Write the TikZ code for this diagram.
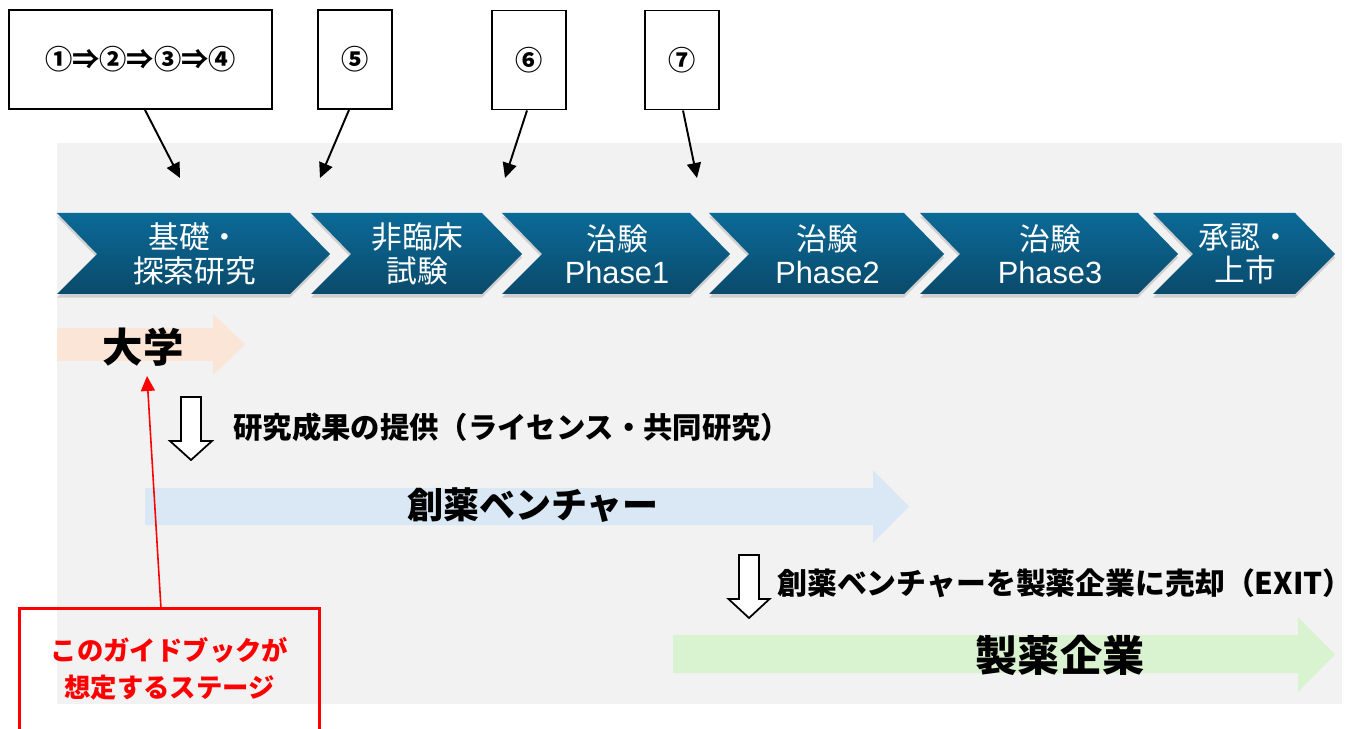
\documentclass[tikz,border=0pt]{standalone}
\usepackage{fontspec}
\setmainfont{Noto Sans CJK JP}
\newfontfamily\latinfont{Liberation Sans}
\usepackage{tikz}
\usetikzlibrary{arrows.meta}
\usetikzlibrary{shadows}
\definecolor{color_stage_top}{HTML}{0B6A97}
\definecolor{color_stage_bottom}{HTML}{0A4A6B}
\definecolor{color_back}{HTML}{F2F2F2}
\definecolor{color_univ}{HTML}{FBE5D6}
\definecolor{color_venture}{HTML}{DAE8F5}
\definecolor{color_pharma}{HTML}{D9F2D0}
\definecolor{color_guide}{HTML}{FF0000}

\begin{document}
\begin{tikzpicture}[x=0.02cm, y=-0.02cm]
  \tikzset{ % Specifications for style of nodes:
      stage/.style = {top color=color_stage_top, bottom color=color_stage_bottom, draw=none,
                      drop shadow={shadow xshift=0pt, shadow yshift=-2pt, opacity=0.3}},
      stagetext/.style = {text=white, align=center, font=\fontsize{17.5}{19}\selectfont},
      stepbox/.style = {draw=black, line width=1.1pt, fill=white, minimum height=1.98cm, font=\bfseries\fontsize{15.5}{18}\selectfont},
      pin/.style = {-{Triangle[length=0.3cm, width=0.28cm]}, line width=1.1pt},
      hollow/.style = {draw=black, fill=white, line width=1pt},
      note/.style = {anchor=west, inner sep=0pt, font=\bfseries\fontsize{16.7}{19}\selectfont},
      guide/.style = {text=color_guide, align=center, minimum width=5.98cm, minimum height=2.4cm, font=\bfseries\fontsize{15}{21}\selectfont},
      guideline/.style = {draw=color_guide, line width=1.5pt},
      guidepin/.style = {color_guide, line width=0.9pt, -{Triangle[length=0.3cm, width=0.28cm]}},
  }
  \useasboundingbox (0,0) rectangle (1351,729);
  \fill[color_back] (57,143) rectangle (1342,704);

  % stages
  \foreach \l/\r/\nm/\txt in {57/290/basic/{基礎・\\探索研究}, 311/482/preclin/{非臨床\\試験},
      502/690/phaseone/{治験\\{\latinfont Phase1}}, 709/904/phasetwo/{治験\\{\latinfont Phase2}},
      920/1138/phasethree/{治験\\{\latinfont Phase3}}, 1153/1295/launch/{承認・\\上市}} {
    \path[stage] (\l,213) -- (\r,213) -- (\r+40,254) -- (\r,294) -- (\l,294) -- (\l+40,254) -- cycle;
    \node (\nm) [stagetext] at ({(\l+\r+40)/2+1},254) {\txt};
  }

  \node (order) [stepbox, minimum width=5.26cm] at (140.5,59.5) {①⇒②⇒③⇒④};
  \node (five) [stepbox, minimum width=1.48cm] at (355,59.5) {⑤};
  \node (six) [stepbox, minimum width=1.48cm] at (529,60) {⑥};
  \node (seven) [stepbox, minimum width=1.48cm] at (682,60) {⑦};

  \coordinate (basic_in) at (180,178);
  \coordinate (preclin_in) at (320,178);
  \coordinate (phaseone_in) at (505,178);
  \coordinate (phasetwo_in) at (697,178);
  \draw[pin] ([xshift=0.09cm]order.south) -- (basic_in);
  \draw[pin] ([xshift=-0.12cm]five.south) -- (preclin_in);
  \draw[pin] ([xshift=-0.04cm]six.south) -- (phaseone_in);
  \draw[pin] ([xshift=0.02cm]seven.south) -- (phasetwo_in);

  % players
  \fill[color_univ] (57,328) -- (213,328) -- (213,314) -- (245,344.5) -- (213,375) -- (213,361) -- (57,361) -- cycle;
  \fill[color_venture] (145,488) -- (873,488) -- (873,470) -- (909,506.5) -- (873,543) -- (873,525) -- (145,525) -- cycle;
  \fill[color_pharma] (673,635) -- (1298,635) -- (1298,617) -- (1335,654.5) -- (1298,692) -- (1298,673) -- (673,673) -- cycle;
  \node (univ) [font=\bfseries\fontsize{23}{26}\selectfont] at (143,347) {大学};
  \node (venture) [font=\bfseries\fontsize{20.5}{24}\selectfont] at (533,505) {創薬ベンチャー};
  \node (pharma) [font=\bfseries\fontsize{24}{28}\selectfont] at (1060,655) {製薬企業};

  \draw[hollow] (181,397) -- (201,397) -- (201,441) -- (212,441) -- (191,460) -- (170,441) -- (181,441) -- cycle;
  \node (license) [note] at (233,427) {研究成果の提供（ライセンス・共同研究）};
  \draw[hollow] (739,555) -- (759,555) -- (759,599) -- (769.5,599) -- (749,618) -- (728.5,599) -- (739,599) -- cycle;
  \node (exit) [note, font=\bfseries\fontsize{17}{19}\selectfont] at (777,583) {創薬ベンチャーを製薬企業に売却（EXIT）};

  % this guidebook
  \node (guide) [guide] at (169.5,669) {このガイドブックが\\想定するステージ};
  \draw[guideline] (guide.south west) -- (guide.north west) -- (guide.north east) -- (guide.south east);
  \coordinate (univ_tip) at (147,376);
  \draw[guidepin] ([xshift=-0.17cm]guide.north) -- (univ_tip);
\end{tikzpicture}
\end{document}
